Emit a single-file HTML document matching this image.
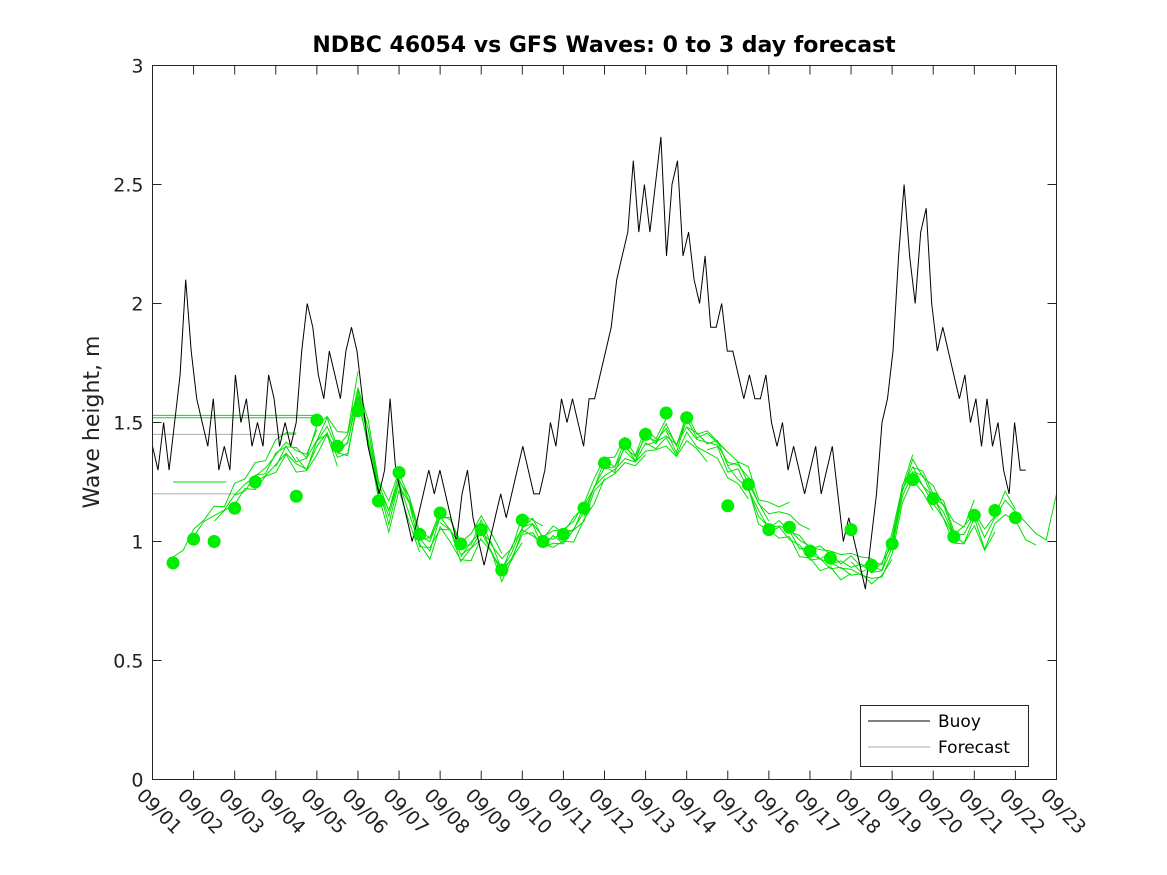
<!DOCTYPE html>
<html><head><meta charset="utf-8"><style>
body{margin:0;background:#fff;}
svg{display:block;font-family:"DejaVu Sans","Liberation Sans",sans-serif;}
</style></head><body>
<svg id="chart" width="1167" height="875" viewBox="0 0 1167 875">
<rect x="0" y="0" width="1167" height="875" fill="#fff"/>
<text x="604" y="52" text-anchor="middle" font-size="22" font-weight="bold" fill="#000">NDBC 46054 vs GFS Waves: 0 to 3 day forecast</text>
<text transform="translate(99,422) rotate(-90)" text-anchor="middle" font-size="22" fill="#222">Wave height, m</text>
<g id="grid"></g>
<g id="series"></g>
<rect x="152.5" y="65.5" width="904" height="714" fill="none" stroke="#262626" stroke-width="1"/>
<g id="axes"></g>
<g>
<rect x="860.5" y="705.5" width="168" height="61" fill="#fff" stroke="#262626"/>
<line x1="868" y1="721" x2="930" y2="721" stroke="#000"/>
<text x="938" y="727" font-size="17" fill="#000">Buoy</text>
<line x1="868" y1="747" x2="930" y2="747" stroke="#aaa"/>
<text x="938" y="753" font-size="17" fill="#000">Forecast</text>
</g>
</svg>
<script>
const xTickLabels=["09/01","09/02","09/03","09/04","09/05","09/06","09/07","09/08","09/09","09/10","09/11","09/12","09/13","09/14","09/15","09/16","09/17","09/18","09/19","09/20","09/21","09/22","09/23"];
const yTicks=[0,0.5,1,1.5,2,2.5,3];
const yTickLabels=["0","0.5","1","1.5","2","2.5","3"];
const buoyStartDay=0, buoyEndDay=21.25;
const buoyValues=[1.4,1.3,1.5,1.3,1.5,1.7,2.1,1.8,1.6,1.5,1.4,1.6,1.3,1.4,1.3,1.7,1.5,1.6,1.4,1.5,1.4,1.7,1.6,1.4,1.5,1.4,1.5,1.8,2.0,1.9,1.7,1.6,1.8,1.7,1.6,1.8,1.9,1.8,1.6,1.4,1.3,1.2,1.3,1.6,1.3,1.2,1.1,1.0,1.1,1.2,1.3,1.2,1.3,1.2,1.1,1.0,1.2,1.3,1.1,1.0,0.9,1.0,1.1,1.2,1.1,1.2,1.3,1.4,1.3,1.2,1.2,1.3,1.5,1.4,1.6,1.5,1.6,1.5,1.4,1.6,1.6,1.7,1.8,1.9,2.1,2.2,2.3,2.6,2.3,2.5,2.3,2.5,2.7,2.2,2.5,2.6,2.2,2.3,2.1,2.0,2.2,1.9,1.9,2.0,1.8,1.8,1.7,1.6,1.7,1.6,1.6,1.7,1.5,1.4,1.5,1.3,1.4,1.3,1.2,1.3,1.4,1.2,1.3,1.4,1.2,1.0,1.1,1.0,0.9,0.8,1.0,1.2,1.5,1.6,1.8,2.2,2.5,2.2,2.0,2.3,2.4,2.0,1.8,1.9,1.8,1.7,1.6,1.7,1.5,1.6,1.4,1.6,1.4,1.5,1.3,1.2,1.5,1.3,1.3];
const meanStartDay=0.5, meanStep=0.25;
const forecastMean=[0.92,0.97,1.02,1.08,1.1,1.12,1.18,1.22,1.25,1.28,1.33,1.38,1.34,1.32,1.42,1.48,1.38,1.40,1.62,1.45,1.22,1.10,1.25,1.15,1.00,0.97,1.08,1.05,0.95,0.98,1.05,0.97,0.88,0.95,1.05,1.06,1.0,1.02,1.02,1.05,1.12,1.22,1.30,1.30,1.38,1.34,1.42,1.40,1.45,1.38,1.48,1.42,1.40,1.38,1.30,1.28,1.22,1.10,1.05,1.05,1.03,0.98,0.95,0.93,0.92,0.90,0.90,0.88,0.87,0.88,0.98,1.20,1.30,1.25,1.18,1.12,1.02,1.02,1.10,1.0,1.08,1.15,1.10,1.05,1.0,0.97,1.16];
const runStarts=[0.5,1,1.5,2,2.5,3,3.5,4,4.5,5,5.5,6,6.5,7,7.5,8,8.5,9,9.5,10,10.5,11,11.5,12,12.5,13,13.5,14,14.5,15,15.5,16,16.5,17,17.5,18,18.5,19];
const runOffsets=[0.1,0.05,-0.05,0.08,-0.04,0.06,-0.06,0.05,0.04,-0.05,0.07,-0.04,0.05,-0.03,0.04,-0.05,0.06,-0.04,0.05,0.03,-0.05,0.06,-0.04,0.05,0.12,0.1,0.04,-0.05,0.06,-0.04,0.05,-0.05,0.04,0.06,-0.04,0.05,-0.03,0.04];
const dotDays=[0.5,1,1.5,2,2.5,3.5,4,4.5,5,5.5,6,6.5,7,7.5,8,8.5,9,9.5,10,10.5,11,11.5,12,12.5,13,14,14.5,15,15.5,16,16.5,17,17.5,18,18.5,19,19.5,20,20.5,21];
const dotValues=[0.91,1.01,1.0,1.14,1.25,1.19,1.51,1.40,1.55,1.17,1.29,1.03,1.12,0.99,1.05,0.88,1.09,1.0,1.03,1.14,1.33,1.41,1.45,1.54,1.52,1.15,1.24,1.05,1.06,0.96,0.93,1.05,0.90,0.99,1.26,1.18,1.02,1.11,1.13,1.10];

const NS="http://www.w3.org/2000/svg";
const X0=152.5,X1=1056.5,Y0=779.5,Y1=65.5,DAYS=22,YMAX=3;
const xs=d=>X0+(X1-X0)*d/DAYS;
const ys=v=>Y0-(Y0-Y1)*v/YMAX;
function mk(tag,attrs,parent){const e=document.createElementNS(NS,tag);for(const k in attrs)e.setAttribute(k,attrs[k]);parent.appendChild(e);return e;}
const axes=document.getElementById('axes'),series=document.getElementById('series');
xTickLabels.forEach((lab,i)=>{
  const x=xs(i);
  const t1=mk('line',{x1:x,y1:Y0,x2:x,y2:Y0-9,stroke:'#262626'},axes);
  
  
  const t2=mk('line',{x1:x,y1:Y1,x2:x,y2:Y1+9,stroke:'#262626'},axes);
  
  
  const tx=mk('text',{x:0,y:0,'font-size':19,fill:'#222',transform:`translate(${x-17},${Y0+17}) rotate(45)`},axes);
  tx.textContent=lab;
  
  
});
yTicks.forEach((v,i)=>{
  const y=ys(v);
  const t1=mk('line',{x1:X0,y1:y,x2:X0+9,y2:y,stroke:'#262626'},axes);
  
  
  const t2=mk('line',{x1:X1,y1:y,x2:X1-9,y2:y,stroke:'#262626'},axes);
  
  
  const tx=mk('text',{x:X0-9,y:y+7,'text-anchor':'end','font-size':19,fill:'#222'},axes);
  tx.textContent=yTickLabels[i];
  
  
});
[[0,4,1.53,'#00e000'],[0,4,1.52,'#00e000'],[0,3.5,1.45,'#aaa'],[0,2,1.2,'#aaa'],[0.5,1.8,1.25,'#00e000']].forEach(s=>{
  const l=mk('line',{x1:xs(s[0]),y1:ys(s[2]),x2:xs(s[1]),y2:ys(s[2]),stroke:s[3],'stroke-width':1},series);
  
  
});
function meanAt(d){const f=(d-meanStartDay)/meanStep;const i=Math.max(0,Math.min(forecastMean.length-2,Math.floor(f)));const r=f-i;return forecastMean[i]*(1-r)+forecastMean[i+1]*r;}
runStarts.forEach((s,ri)=>{
  const pts=[];
  for(let k=0;k<=12;k++){const d=s+k*0.25;if(d>DAYS)break;const jig=(k%2?1:-1)*0.015*((ri%3)-1);pts.push(xs(d).toFixed(1)+','+ys(meanAt(d)+runOffsets[ri]*k/12+jig).toFixed(1));}
  const p=mk('polyline',{points:pts.join(' '),fill:'none',stroke:'#00e000','stroke-width':1},series);
  
  
});
const bp=buoyValues.map((v,i)=>{const d=buoyStartDay+(buoyEndDay-buoyStartDay)*i/(buoyValues.length-1);return xs(d).toFixed(1)+','+ys(v).toFixed(1);});
const bl=mk('polyline',{points:bp.join(' '),fill:'none',stroke:'#000','stroke-width':1},series);


dotDays.forEach((d,i)=>{
  const c=mk('circle',{cx:xs(d),cy:ys(dotValues[i]),r:6.5,fill:'#00ee00'},series);
  
  
});
</script>
</body></html>
